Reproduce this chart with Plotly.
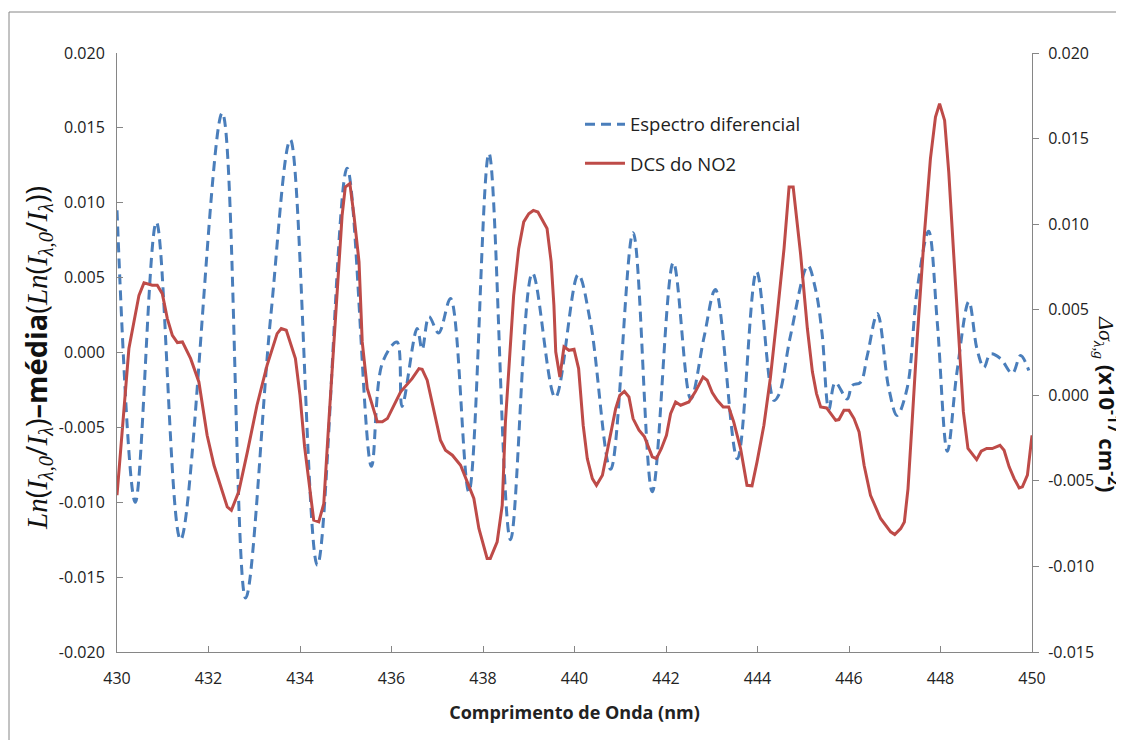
import plotly.graph_objects as go

# ---- Data ----
wl_esp = [430.00, 430.40, 430.86, 431.39, 432.30, 432.81, 433.36, 433.79, 434.38, 435.03,
          435.56, 435.80, 436.12, 436.23, 436.56, 436.67, 436.82, 437.03, 437.29, 437.69,
          438.13, 438.60, 439.08, 439.58, 440.08, 440.35, 440.79, 441.28, 441.70, 442.16,
          442.54, 442.83, 443.08, 443.56, 443.98, 444.36, 444.47, 444.72, 445.10, 445.27,
          445.41, 445.56, 445.70, 445.96, 446.07, 446.25, 446.40, 446.62, 446.87, 447.05,
          447.27, 447.49, 447.74, 447.93, 448.15, 448.36, 448.62, 448.80, 448.95, 449.09,
          449.31, 449.57, 449.75, 449.93]
espectro = [0.0095, -0.0100, 0.0087, -0.0125, 0.0160, -0.0164, 0.0024, 0.0142, -0.0142, 0.0123,
            -0.0076, -0.0007, 0.0007, -0.0036, 0.0016, 0.0002, 0.0024, 0.0013, 0.0036, -0.0093,
            0.0133, -0.0125, 0.0053, -0.0030, 0.0052, 0.0020, -0.0078, 0.0080, -0.0093, 0.0060,
            -0.0031, 0.0010, 0.0042, -0.0071, 0.0054, -0.0032, -0.0028, 0.0011, 0.0058, 0.0042,
            0.0013, -0.0038, -0.0020, -0.0031, -0.0022, -0.0020, -0.0002, 0.0026, -0.0024, -0.0042,
            -0.0024, 0.0042, 0.0081, 0.0020, -0.0066, -0.0013, 0.0034, 0.0002, -0.0010, -0.0001,
            -0.0004, -0.0014, -0.0002, -0.0012]

wl_dcs = [430.00, 430.26, 430.48, 430.59, 430.77, 430.88, 430.99, 431.10, 431.21, 431.32,
          431.43, 431.61, 431.79, 431.97, 432.12, 432.41, 432.50, 432.66, 432.85, 433.06,
          433.28, 433.50, 433.59, 433.70, 433.90, 434.00, 434.10, 434.30, 434.41, 434.52,
          434.63, 434.81, 434.92, 434.99, 435.09, 435.18, 435.29, 435.36, 435.47, 435.69,
          435.80, 435.91, 436.20, 436.45, 436.60, 436.67, 436.78, 437.07, 437.18, 437.33,
          437.51, 437.80, 437.91, 438.09, 438.16, 438.31, 438.42, 438.49, 438.60, 438.67,
          438.78, 438.89, 439.00, 439.10, 439.20, 439.40, 439.49, 439.55, 439.59, 439.68,
          439.77, 439.88, 439.99, 440.09, 440.19, 440.28, 440.39, 440.48, 440.61, 440.72,
          440.90, 440.99, 441.09, 441.19, 441.28, 441.41, 441.53, 441.70, 441.79, 441.90,
          442.01, 442.10, 442.21, 442.32, 442.50, 442.64, 442.81, 442.90, 443.01, 443.12,
          443.25, 443.37, 443.48, 443.63, 443.77, 443.88, 443.99, 444.14, 444.28, 444.43,
          444.58, 444.69, 444.78, 444.94, 445.09, 445.20, 445.29, 445.38, 445.51, 445.71,
          445.78, 445.89, 446.00, 446.11, 446.22, 446.33, 446.47, 446.69, 446.91, 447.00,
          447.13, 447.21, 447.29, 447.38, 447.49, 447.64, 447.78, 447.89, 447.98, 448.09,
          448.18, 448.29, 448.40, 448.50, 448.60, 448.79, 448.89, 449.01, 449.13, 449.30,
          449.39, 449.50, 449.61, 449.72, 449.79, 449.90, 450.00]
dcs_no2 = [-0.00584, 0.00273, 0.00584, 0.00657, 0.00643, 0.00643, 0.00594, 0.00448, 0.00350, 0.00308,
           0.00312, 0.00214, 0.00078, -0.00234, -0.00409, -0.00652, -0.00672, -0.00564, -0.00331, -0.00058,
           0.00175, 0.00360, 0.00390, 0.00380, 0.00214, 0.00000, -0.00300, -0.00730, -0.00740, -0.00633,
           -0.00155, 0.00623, 0.01050, 0.01217, 0.01237, 0.01050, 0.00780, 0.00312, 0.00040, -0.00155,
           -0.00155, -0.00136, 0.00020, 0.00097, 0.00156, 0.00152, 0.00088, -0.00263, -0.00321, -0.00350,
           -0.00409, -0.00603, -0.00778, -0.00953, -0.00953, -0.00856, -0.00643, -0.00155, 0.00331, 0.00584,
           0.00857, 0.01013, 0.01061, 0.01080, 0.01071, 0.00974, 0.00780, 0.00526, 0.00254, 0.00107,
           0.00283, 0.00263, 0.00269, 0.00156, -0.00175, -0.00370, -0.00487, -0.00526, -0.00467, -0.00311,
           -0.00078, 0.00000, 0.00023, -0.00010, -0.00136, -0.00204, -0.00243, -0.00360, -0.00370, -0.00311,
           -0.00234, -0.00107, -0.00039, -0.00058, -0.00039, 0.00020, 0.00107, 0.00088, 0.00016, -0.00029,
           -0.00068, -0.00068, -0.00155, -0.00311, -0.00526, -0.00529, -0.00389, -0.00175, 0.00098, 0.00467,
           0.00857, 0.01217, 0.01217, 0.00830, 0.00390, 0.00137, 0.00010, -0.00068, -0.00074, -0.00146,
           -0.00142, -0.00088, -0.00088, -0.00136, -0.00214, -0.00409, -0.00584, -0.00720, -0.00798, -0.00814,
           -0.00779, -0.00740, -0.00545, -0.00155, 0.00331, 0.00915, 0.01383, 0.01626, 0.01704, 0.01606,
           0.01305, 0.00818, 0.00331, -0.00097, -0.00311, -0.00376, -0.00327, -0.00311, -0.00311, -0.00292,
           -0.00321, -0.00418, -0.00487, -0.00541, -0.00535, -0.00467, -0.00234]

x_ticks = [430, 432, 434, 436, 438, 440, 442, 444, 446, 448, 450]
y1_ticks = [0.020, 0.015, 0.010, 0.005, 0.000, -0.005, -0.010, -0.015, -0.020]
y1_labels = ["0.020", "0.015", "0.010", "0.005", "0.000", "-0.005", "-0.010", "-0.015", "-0.020"]
y2_ticks = [0.020, 0.015, 0.010, 0.005, 0.000, -0.005, -0.010, -0.015]
y2_labels = ["0.020", "0.015", "0.010", "0.005", "0.000", "-0.005", "-0.010", "-0.015"]

BLUE = "#4A7EBB"
RED = "#BE4B48"
AXIS = "#868686"
FONT = "Open Sans"

# the page adds an 8px body margin, so the layout is expressed in figure coords
ML, MT, PW, PH = 109, 45, 915, 599

fig = go.Figure()
fig.add_trace(go.Scatter(
    x=wl_esp, y=espectro, name="Espectro diferencial", mode="lines",
    line=dict(color=BLUE, width=3, dash="10px,6px", shape="spline", smoothing=1.0),
    legendgroup="a", yaxis="y"))
fig.add_trace(go.Scatter(
    x=wl_dcs, y=dcs_no2, name="DCS do NO2", mode="lines",
    line=dict(color=RED, width=3),
    legendgroup="b", yaxis="y2"))

fig.update_layout(
    width=1124, height=740,
    margin=dict(l=ML, r=1124 - ML - PW, t=MT, b=740 - MT - PH),
    paper_bgcolor="white", plot_bgcolor="white",
    font=dict(family=FONT, size=16, color="#222222"),
    showlegend=True,
    legend=dict(x=0.506, y=0.912, xanchor="left", yanchor="top",
                bgcolor="rgba(0,0,0,0)", font=dict(size=18.5, color="#222222"),
                traceorder="grouped", tracegroupgap=12, itemwidth=40),
    xaxis=dict(range=[430, 450], tickvals=x_ticks, ticks="inside", ticklen=6,
               tickcolor=AXIS, showline=True, linecolor=AXIS, linewidth=1,
               showgrid=False, zeroline=False, ticklabelstandoff=12,
               title=dict(text="<b>Comprimento de Onda (nm)</b>",
                          font=dict(size=18, color="#222222"), standoff=18)),
    yaxis=dict(range=[-0.020, 0.020], tickvals=y1_ticks, ticktext=y1_labels,
               ticks="inside", ticklen=6, tickcolor=AXIS, showline=True,
               linecolor=AXIS, linewidth=1, showgrid=False, zeroline=False,
               ticklabelstandoff=8),
    yaxis2=dict(range=[-0.015, 0.020], tickvals=y2_ticks, ticktext=y2_labels,
                overlaying="y", side="right", ticks="outside", ticklen=6,
                tickcolor=AXIS, showline=True, linecolor=AXIS, linewidth=1,
                showgrid=False, zeroline=False, ticklabelstandoff=6),
)

# outer chart border
fig.add_shape(type="rect", xref="paper", yref="paper",
              x0=(1 - ML) / PW, x1=(1140 - ML) / PW,
              y0=-(760 - MT - PH) / PH, y1=1 + (MT - 4) / PH,
              line=dict(color=AXIS, width=1), fillcolor="rgba(0,0,0,0)", layer="below")

serif = "font-family:'Liberation Serif';font-style:italic"
left_title = (f"<span style=\"{serif}\">Ln</span>(<span style=\"{serif}\">I</span>"
              f"<sub><span style=\"{serif}\">λ,0</span></sub>/<span style=\"{serif}\">I</span>"
              f"<sub><span style=\"{serif}\">λ</span></sub>)<b>–média</b>("
              f"<span style=\"{serif}\">Ln</span>(<span style=\"{serif}\">I</span>"
              f"<sub><span style=\"{serif}\">λ,0</span></sub>/<span style=\"{serif}\">I</span>"
              f"<sub><span style=\"{serif}\">λ</span></sub>))")
fig.add_annotation(text=left_title, xref="paper", yref="paper",
                   x=(28 - ML) / PW, y=(MT + PH - 350) / PH, xanchor="center", yanchor="middle",
                   textangle=-90, showarrow=False, font=dict(size=29, color="#111111"))

right_title = (f"<span style=\"{serif}\">Δσ</span><sub><span style=\"{serif}\">λ,g</span></sub>"
               " <b>(x10<sup>-17</sup> cm<sup>-2</sup>)</b>")
fig.add_annotation(text=right_title, xref="paper", yref="paper",
                   x=(1100 - ML) / PW, y=(MT + PH - 396) / PH, xanchor="center", yanchor="middle",
                   textangle=90, showarrow=False, font=dict(size=22, color="#111111"))

fig.write_html("out.html")
